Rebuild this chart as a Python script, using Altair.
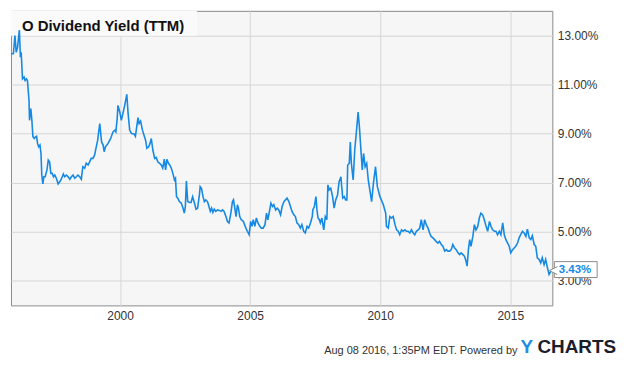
import altair as alt
import pandas as pd

# ---- data (decimal year, dividend yield in %) ----
years = [
    1995.81, 1995.90, 1995.96, 1996.01, 1996.06, 1996.13, 1996.17, 1996.20, 1996.25, 1996.31,
    1996.35, 1996.40, 1996.44, 1996.50, 1996.52, 1996.57, 1996.61, 1996.65, 1996.70, 1996.75,
    1996.79, 1996.83, 1996.87, 1996.92, 1996.96, 1996.99, 1997.03, 1997.07, 1997.12, 1997.19,
    1997.24, 1997.29, 1997.34, 1997.39, 1997.44, 1997.49, 1997.55, 1997.62, 1997.68, 1997.74,
    1997.82, 1997.87, 1997.94, 1998.00, 1998.07, 1998.13, 1998.19, 1998.26, 1998.32, 1998.38,
    1998.45, 1998.51, 1998.57, 1998.64, 1998.70, 1998.77, 1998.83, 1998.89, 1998.96, 1999.02,
    1999.14, 1999.22, 1999.29, 1999.35, 1999.39, 1999.44, 1999.54, 1999.64, 1999.73, 1999.80,
    1999.84, 1999.89, 1999.92, 1999.99, 2000.05, 2000.11, 2000.18, 2000.26, 2000.31, 2000.37,
    2000.44, 2000.54, 2000.59, 2000.64, 2000.69, 2000.73, 2000.79, 2000.86, 2000.92, 2000.98,
    2001.03, 2001.10, 2001.15, 2001.20, 2001.26, 2001.33, 2001.39, 2001.45, 2001.52, 2001.58,
    2001.64, 2001.70, 2001.75, 2001.80, 2001.86, 2001.91, 2001.97, 2002.03, 2002.09, 2002.13,
    2002.17, 2002.22, 2002.28, 2002.35, 2002.41, 2002.47, 2002.51, 2002.55, 2002.60,
    2002.67, 2002.73, 2002.79, 2002.86, 2002.92, 2002.98, 2003.05, 2003.08, 2003.13, 2003.19,
    2003.24, 2003.30, 2003.36, 2003.40, 2003.47, 2003.52, 2003.57, 2003.62, 2003.68, 2003.75,
    2003.81, 2003.88, 2003.94, 2004.00, 2004.07, 2004.13, 2004.19, 2004.26, 2004.32, 2004.36,
    2004.41, 2004.46, 2004.51, 2004.55, 2004.60, 2004.66, 2004.74, 2004.81, 2004.89, 2004.96,
    2005.02, 2005.07, 2005.12, 2005.18, 2005.24, 2005.30, 2005.37, 2005.43, 2005.50, 2005.57,
    2005.63, 2005.68, 2005.73, 2005.80, 2005.86, 2005.91, 2005.98, 2006.04, 2006.10,
    2006.17, 2006.23, 2006.30, 2006.36, 2006.42, 2006.49, 2006.55, 2006.61, 2006.68, 2006.74,
    2006.80, 2006.87, 2006.93, 2006.99, 2007.06, 2007.12, 2007.19, 2007.25, 2007.32, 2007.39,
    2007.41, 2007.47, 2007.53, 2007.57, 2007.61, 2007.66, 2007.70, 2007.76, 2007.83, 2007.89,
    2007.95, 2007.99, 2008.04, 2008.10, 2008.17, 2008.23, 2008.29, 2008.36, 2008.42, 2008.49,
    2008.52, 2008.56, 2008.62, 2008.67, 2008.72, 2008.75, 2008.81, 2008.85, 2008.89, 2008.96,
    2009.02, 2009.09, 2009.15, 2009.20, 2009.25, 2009.31, 2009.36, 2009.42, 2009.48,
    2009.54, 2009.67, 2009.74, 2009.82, 2009.89, 2009.99, 2010.12, 2010.21, 2010.24, 2010.31,
    2010.37, 2010.44, 2010.50, 2010.57, 2010.63, 2010.69, 2010.75, 2010.82, 2010.88, 2010.95,
    2011.01, 2011.07, 2011.14, 2011.20, 2011.27, 2011.33, 2011.39, 2011.46, 2011.52, 2011.58,
    2011.65, 2011.71, 2011.77, 2011.84, 2011.90, 2011.96, 2012.03, 2012.09, 2012.15, 2012.22,
    2012.28, 2012.35, 2012.41, 2012.48, 2012.54, 2012.60, 2012.67, 2012.73, 2012.79, 2012.86,
    2012.92, 2012.99, 2013.05, 2013.11, 2013.18, 2013.24, 2013.30, 2013.34, 2013.39, 2013.44,
    2013.49, 2013.56, 2013.62, 2013.68, 2013.75, 2013.81, 2013.87, 2013.94, 2014.00, 2014.07,
    2014.13, 2014.20, 2014.26, 2014.32, 2014.39, 2014.45, 2014.51, 2014.58, 2014.64, 2014.71,
    2014.77, 2014.83, 2014.90, 2014.96, 2015.02, 2015.09, 2015.15, 2015.21, 2015.28, 2015.34,
    2015.40, 2015.47, 2015.53, 2015.60, 2015.66, 2015.73, 2015.79, 2015.85, 2015.92, 2015.98,
    2016.04, 2016.11, 2016.17, 2016.23, 2016.30, 2016.36, 2016.43, 2016.49, 2016.55, 2016.60,
]
yields = [
    12.25, 12.25, 12.99, 12.31, 12.51, 13.22, 12.11, 12.31, 11.23, 11.30,
    11.16, 11.23, 11.16, 10.35, 9.54, 10.02, 9.54, 8.87, 8.80, 8.87,
    8.89, 8.59, 8.46, 8.53, 8.19, 7.31, 6.95, 7.24, 7.24, 7.52,
    7.92, 7.85, 7.38, 7.38, 7.24, 7.31, 7.18, 6.95, 7.04, 7.14,
    7.35, 7.24, 7.31, 7.24, 7.14, 7.24, 7.31, 7.18, 7.24, 7.31,
    7.24, 7.14, 7.65, 7.59, 7.79, 7.72, 7.85, 7.99, 7.99, 8.12,
    8.73, 9.41, 8.66, 8.53, 8.26, 8.46, 8.60, 8.80, 9.07, 9.14,
    9.07, 9.61, 10.15, 9.88, 9.54, 9.81, 10.15, 10.60, 9.81, 9.14,
    9.00, 8.98, 8.89, 9.27, 9.65, 9.41, 9.51, 9.14, 8.93, 8.73,
    8.40, 8.46, 8.60, 8.80, 8.33, 7.99, 8.03, 7.85, 7.79, 7.72,
    7.59, 7.96, 7.52, 7.95, 7.79, 7.72, 7.59, 7.38, 7.11, 7.18,
    6.43, 6.37, 6.23, 6.17, 6.00, 5.76, 6.03, 7.07, 6.23,
    6.19, 6.19, 6.43, 6.17, 5.92, 5.96, 6.50, 6.84, 6.77, 6.43,
    6.23, 6.30, 6.23, 6.10, 5.83, 5.96, 5.79, 5.92, 5.83, 5.89,
    5.87, 5.83, 5.89, 5.83, 5.62, 5.42, 5.36, 5.76, 6.23, 6.30,
    5.96, 5.62, 6.10, 5.96, 5.62, 5.49, 5.42, 5.22, 5.02, 4.88,
    5.42, 5.22, 5.49, 5.22, 5.56, 5.36, 5.22, 5.15, 5.15, 5.29,
    5.76, 5.49, 5.76, 6.17, 6.03, 6.10, 5.89, 5.96, 5.89,
    5.69, 6.03, 6.23, 6.30, 6.37, 6.23, 6.03, 5.83, 5.69, 5.62,
    5.36, 5.29, 5.15, 5.29, 5.02, 4.95, 5.22, 5.15, 5.36, 5.62,
    5.89, 6.03, 6.43, 5.89, 5.56, 5.49, 5.36, 5.56, 5.08, 5.62,
    5.49, 6.91, 6.71, 6.77, 6.43, 5.96, 6.30, 6.50, 7.04, 7.24,
    6.84, 6.37, 6.43, 6.30, 6.30, 7.72, 7.79, 8.66, 7.79, 7.11,
    8.33, 9.14, 9.88, 9.27, 8.46, 7.52, 8.19, 7.65, 7.79,
    7.11, 6.23, 6.98, 7.65, 6.84, 6.43, 6.10, 5.76, 5.22, 5.15,
    5.62, 5.56, 5.62, 5.29, 5.08, 5.02, 4.88, 5.08, 5.02, 5.08,
    5.02, 5.02, 4.95, 5.08, 4.95, 4.88, 5.02, 5.08, 5.15, 5.49,
    5.08, 5.49, 5.29, 5.15, 4.95, 4.81, 4.75, 4.68, 4.61, 4.54,
    4.61, 4.48, 4.41, 4.21, 4.27, 4.21, 4.21, 4.27, 4.48, 4.34,
    4.27, 4.14, 4.07, 4.14, 4.07, 4.00, 3.80, 3.60, 4.27, 4.68,
    4.41, 4.81, 5.29, 5.08, 5.22, 5.56, 5.76, 5.69, 5.49, 5.22,
    5.02, 5.42, 5.22, 5.08, 5.02, 5.02, 4.88, 5.02, 4.88, 5.36,
    4.88, 4.68, 4.54, 4.41, 4.14, 4.27, 4.34, 4.41, 4.54, 4.75,
    4.88, 5.02, 4.95, 4.81, 5.11, 4.75, 4.68, 4.84, 4.48, 4.41,
    3.94, 3.87, 3.73, 3.94, 3.66, 3.87, 3.53, 3.26, 3.37, 3.43,
]
x_tick_years = [2000, 2005, 2010, 2015]
y_ticks = [3, 5, 7, 9, 11, 13]
y_domain = [2, 14]
x_end_year = 2016.62

title_text = "O Dividend Yield (TTM)"
footer_text = "Aug 08 2016, 1:35PM EDT.  Powered by"


def to_date(y):
    yr = int(y)
    start = pd.Timestamp(year=yr, month=1, day=1)
    end = pd.Timestamp(year=yr + 1, month=1, day=1)
    return start + (end - start) * (y - yr)


df = pd.DataFrame({"date": [to_date(y) for y in years], "yield": yields})
last = df.tail(1).copy()
last["label"] = last["yield"].map(lambda v: f"{v:.2f}%")

x_domain = [
    alt.DateTime(year=d.year, month=d.month, date=d.day)
    for d in (to_date(years[0]), to_date(x_end_year))
]

W, H = 544, 296
FONT = "Liberation Sans"
BLUE = "#1689e3"

x_enc = alt.X(
    "date:T",
    scale=alt.Scale(domain=x_domain, nice=False),
    axis=alt.Axis(
        values=[alt.DateTime(year=y, month=1, date=1) for y in x_tick_years],
        format="%Y", title=None, grid=True, gridColor="#d6d6d6", gridWidth=1,
        domain=False, ticks=False, labelFont=FONT, labelFontSize=12,
        labelColor="#333333", labelPadding=5, labelFlush=False,
    ),
)
y_enc = alt.Y(
    "yield:Q",
    scale=alt.Scale(domain=y_domain, nice=False, zero=False),
    axis=alt.Axis(
        orient="right", values=y_ticks, title=None,
        labelExpr="format(datum.value, '.2f') + '%'",
        grid=True, gridColor="#d6d6d6", gridWidth=1,
        domain=False, ticks=False, labelFont=FONT, labelFontSize=12,
        labelColor="#333333", labelPadding=5,
    ),
)

one = pd.DataFrame({"k": [0]})

title_box = alt.Chart(one).mark_rect(fill="#fafafa").encode(
    x=alt.value(0), x2=alt.value(187), y=alt.value(0), y2=alt.value(25)
)

line = alt.Chart(df).mark_line(color=BLUE, strokeWidth=1.6, clip=True).encode(
    x=x_enc, y=y_enc
)

title = alt.Chart(one).mark_text(
    align="left", baseline="alphabetic", font=FONT, fontSize=15,
    fontWeight="bold", color="#111111",
).encode(x=alt.value(11), y=alt.value(20), text=alt.value(title_text))

label_box = alt.Chart(one).mark_rect(
    fill="white", stroke="#8a8a8a", strokeWidth=1
).encode(x=alt.value(546), x2=alt.value(589), y=alt.value(252), y2=alt.value(268))

label_arrow = alt.Chart(one).mark_point(
    shape="M1,-1L-1,0L1,1", filled=True, fill="white", stroke="#8a8a8a",
    strokeWidth=1, size=64, opacity=1,
).encode(x=alt.value(545), y=alt.value(261))

label_text = alt.Chart(last).mark_text(
    align="left", baseline="middle", font=FONT, fontSize=11.5,
    fontWeight="bold", color=BLUE,
).encode(x=alt.value(550.5), y=alt.Y("yield:Q"), text="label:N")

footer = alt.Chart(one).mark_text(
    align="right", baseline="alphabetic", font=FONT, fontSize=11, color="#333333"
).encode(x=alt.value(509), y=alt.value(345), text=alt.value(footer_text))

logo_y = alt.Chart(one).mark_text(
    align="left", baseline="alphabetic", font=FONT, fontSize=19,
    fontWeight="bold", color="#1f8fe5",
).encode(x=alt.value(512), y=alt.value(344), text=alt.value("Y"))

logo_rest = alt.Chart(one).mark_text(
    align="left", baseline="alphabetic", font=FONT, fontSize=19,
    fontWeight="bold", color="#1b1d2b",
).encode(x=alt.value(529), y=alt.value(344), text=alt.value("CHARTS"))

chart = (
    alt.layer(title_box, line, title, label_box, label_arrow, label_text,
              footer, logo_y, logo_rest)
    .resolve_scale(y="shared")
    .properties(
        width=W, height=H,
        autosize=alt.AutoSizeParams(type="none"),
        padding={"left": 3, "top": 2, "right": 75, "bottom": 52},
        background="white",
    )
    .configure_view(fill="#f6f6f6", stroke="#8a8a8a", strokeWidth=1)
)

chart.save("out.html", embed_options={"renderer": "svg", "actions": False})
